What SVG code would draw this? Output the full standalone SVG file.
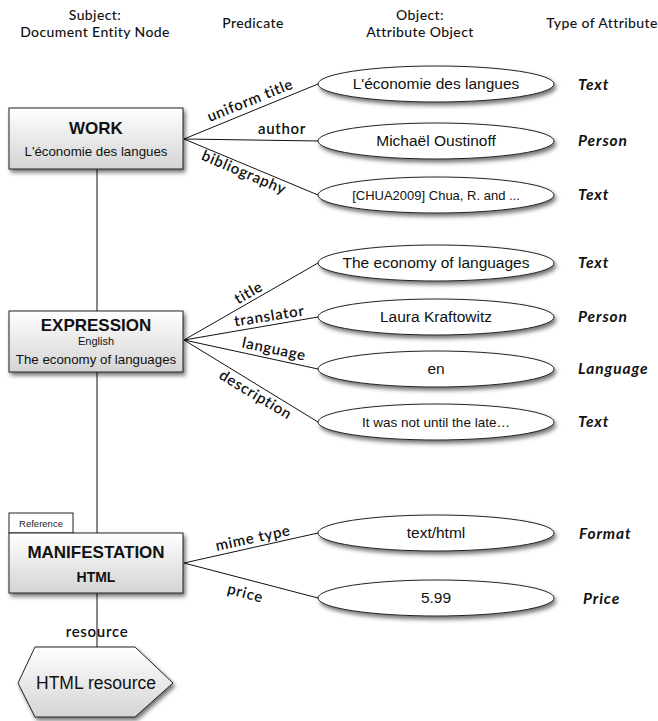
<svg xmlns="http://www.w3.org/2000/svg" width="658" height="721" viewBox="0 0 658 721">
  <defs>
    <linearGradient id="boxFill" x1="0" y1="0" x2="0" y2="1">
      <stop offset="0" stop-color="#ffffff"/>
      <stop offset="1" stop-color="#d4d4d4"/>
    </linearGradient>
    <filter id="shadow" x="-20%" y="-30%" width="140%" height="170%">
      <feDropShadow dx="2" dy="3" stdDeviation="2" flood-color="#000" flood-opacity="0.55"/>
    </filter>
    <style>
      .head { font-family: Lato, "Open Sans", sans-serif; font-size: 14px; font-weight: 500; letter-spacing: 0.4px; fill: #111; text-anchor: middle; }
      .pred { font-family: Lato, "Open Sans", sans-serif; font-size: 15px; font-weight: 600; letter-spacing: 0.7px; fill: #111; text-anchor: middle; }
      .type { font-family: Lato, "Open Sans", sans-serif; font-size: 15.5px; font-weight: 700; font-style: italic; letter-spacing: 0.9px; fill: #111; }
      .box { fill: url(#boxFill); stroke: #222; stroke-width: 1; filter: url(#shadow); }
      .ell { fill: #ffffff; stroke: #222; stroke-width: 1; filter: url(#shadow); }
      .title { font-family: "Liberation Sans", Arial, sans-serif; font-size: 17px; font-weight: bold; fill: #111; text-anchor: middle; }
      .sub { font-family: "Liberation Sans", Arial, sans-serif; font-size: 13.3px; fill: #111; text-anchor: middle; }
      .val { font-family: "Liberation Sans", Arial, sans-serif; font-size: 15.5px; fill: #111; text-anchor: middle; }
      .conn line { stroke: #111; stroke-width: 1; fill: none; }
    </style>
  </defs>

  <rect width="658" height="721" fill="#ffffff"/>

  <!-- column headings -->
  <g id="headings">
    <text class="head" x="95" y="20">Subject:</text>
    <text class="head" x="95" y="37">Document Entity Node</text>
    <text class="head" x="253" y="28">Predicate</text>
    <text class="head" x="420" y="20">Object:</text>
    <text class="head" x="420" y="37">Attribute Object</text>
    <text class="head" x="602" y="28">Type of Attribute</text>
  </g>

  <!-- connectors -->
  <g id="connectors" class="conn">
    <line x1="97" y1="169" x2="97" y2="311"/>
    <line x1="97" y1="372" x2="97" y2="533"/>
    <line x1="97" y1="593" x2="97" y2="647"/>
    <line x1="184" y1="139" x2="318" y2="84"/>
    <line x1="184" y1="139" x2="318" y2="141"/>
    <line x1="184" y1="139" x2="318" y2="195"/>
    <line x1="184" y1="340" x2="318" y2="263"/>
    <line x1="184" y1="340" x2="318" y2="317"/>
    <line x1="184" y1="340" x2="318" y2="369"/>
    <line x1="184" y1="340" x2="318" y2="422"/>
    <line x1="184" y1="563" x2="318" y2="533"/>
    <line x1="184" y1="563" x2="318" y2="598"/>
  </g>

  <!-- predicate labels -->
  <g id="predicates">
    <text class="pred" transform="translate(252,105) rotate(-22)">uniform title</text>
    <text class="pred" x="282" y="134">author</text>
    <text class="pred" transform="translate(242,177) rotate(23)">bibliography</text>
    <text class="pred" transform="translate(251,297) rotate(-30)">title</text>
    <text class="pred" transform="translate(270,321) rotate(-9)">translator</text>
    <text class="pred" transform="translate(273,354) rotate(12)">language</text>
    <text class="pred" transform="translate(253,399) rotate(31)">description</text>
    <text class="pred" transform="translate(254,543) rotate(-12)">mime type</text>
    <text class="pred" transform="translate(244,598) rotate(15)">price</text>
    <text class="pred" x="97" y="637">resource</text>
  </g>

  <!-- subject nodes -->
  <g id="work">
    <rect class="box" x="9" y="108" width="174" height="61"/>
    <text class="title" x="96" y="134">WORK</text>
    <text class="sub" x="96" y="156">L'économie des langues</text>
  </g>

  <g id="expression">
    <rect class="box" x="9" y="311" width="174" height="61"/>
    <text class="title" x="96" y="331">EXPRESSION</text>
    <text class="sub" x="96" y="345" style="font-size:11px">English</text>
    <text class="sub" x="96" y="364">The economy of languages</text>
  </g>

  <g id="manifestation">
    <rect x="9" y="513" width="64" height="20" fill="#ffffff" stroke="#222" stroke-width="1"/>
    <text x="41" y="527" font-family="Liberation Sans, Arial, sans-serif" font-size="9.5px" fill="#222" text-anchor="middle">Reference</text>
    <rect class="box" x="9" y="533" width="174" height="60"/>
    <text class="title" x="96" y="558">MANIFESTATION</text>
    <text class="title" x="96" y="582" style="font-size:14px">HTML</text>
  </g>

  <g id="html-resource">
    <polygon class="box" points="35,647 135,647 173,683 135,717 35,717 18,683"/>
    <text class="val" x="96" y="689" style="font-size:17.5px">HTML resource</text>
  </g>

  <!-- attribute objects -->
  <g id="obj-uniform-title">
    <ellipse class="ell" cx="436" cy="84" rx="118" ry="18"/>
    <text class="val" x="436" y="89">L'économie des langues</text>
  </g>
  <g id="obj-author">
    <ellipse class="ell" cx="436" cy="141" rx="118" ry="18"/>
    <text class="val" x="436" y="146">Michaël Oustinoff</text>
  </g>
  <g id="obj-bibliography">
    <ellipse class="ell" cx="436" cy="195" rx="118" ry="18"/>
    <text class="val" x="436" y="200" style="font-size:13px">[CHUA2009] Chua, R. and ...</text>
  </g>
  <g id="obj-title">
    <ellipse class="ell" cx="436" cy="263" rx="118" ry="18"/>
    <text class="val" x="436" y="268">The economy of languages</text>
  </g>
  <g id="obj-translator">
    <ellipse class="ell" cx="436" cy="317" rx="118" ry="18"/>
    <text class="val" x="436" y="322">Laura Kraftowitz</text>
  </g>
  <g id="obj-language">
    <ellipse class="ell" cx="436" cy="369" rx="118" ry="18"/>
    <text class="val" x="436" y="374">en</text>
  </g>
  <g id="obj-description">
    <ellipse class="ell" cx="436" cy="422" rx="118" ry="18"/>
    <text class="val" x="436" y="427" style="font-size:13.5px">It was not until the late…</text>
  </g>
  <g id="obj-mime-type">
    <ellipse class="ell" cx="436" cy="533" rx="118" ry="18"/>
    <text class="val" x="436" y="538">text/html</text>
  </g>
  <g id="obj-price">
    <ellipse class="ell" cx="436" cy="598" rx="118" ry="18"/>
    <text class="val" x="436" y="603">5.99</text>
  </g>

  <!-- attribute types -->
  <g id="types">
    <text class="type" x="578" y="90">Text</text>
    <text class="type" x="578" y="146">Person</text>
    <text class="type" x="578" y="200">Text</text>
    <text class="type" x="578" y="268">Text</text>
    <text class="type" x="578" y="322">Person</text>
    <text class="type" x="578" y="374">Language</text>
    <text class="type" x="578" y="427">Text</text>
    <text class="type" x="579" y="539">Format</text>
    <text class="type" x="583" y="604">Price</text>
  </g>
</svg>
